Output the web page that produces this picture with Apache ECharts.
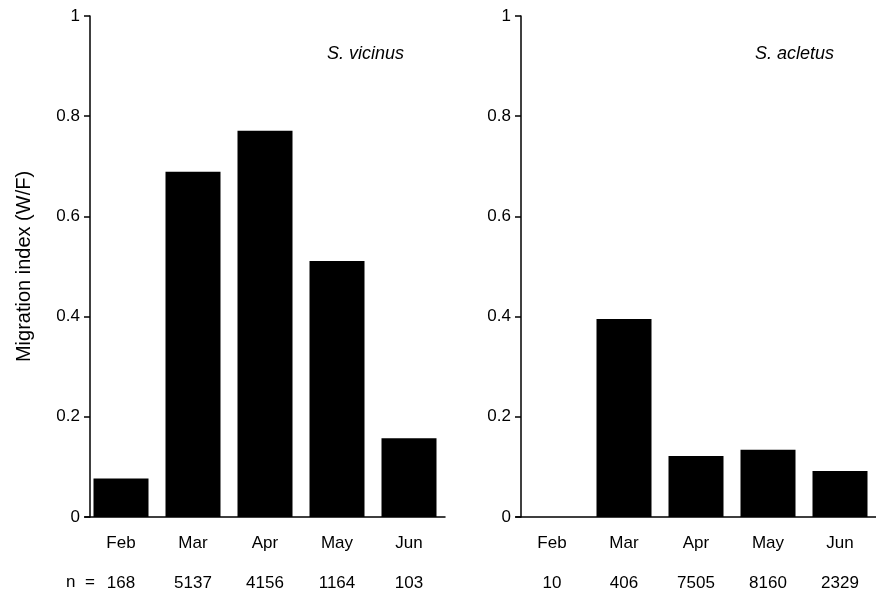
<!DOCTYPE html>
<html>
<head>
<meta charset="utf-8">
<script src="https://cdn.jsdelivr.net/npm/echarts@6/dist/echarts.min.js"></script>
<style>
  html, body { margin: 0; padding: 0; background: #fff; }
  #chart { width: 876px; height: 594px; }
</style>
</head>
<body>
<div id="chart"></div>
<script>
// Monthly migration index (W/F) for two species, with sample sizes per month
const months = ['Feb', 'Mar', 'Apr', 'May', 'Jun'];
const vicinusIndex = [0.077, 0.689, 0.771, 0.511, 0.157];
const acletusIndex = [0, 0.395, 0.122, 0.134, 0.092];
const vicinusN = ['168', '5137', '4156', '1164', '103'];
const acletusN = ['10', '406', '7505', '8160', '2329'];
const yTicks = [0, 0.2, 0.4, 0.6, 0.8, 1];
const speciesNames = ['S. vicinus', 'S. acletus'];

const FONT = 'Liberation Sans, Arial, Helvetica, sans-serif';
const INK = '#000';

function monthAxis(gridIndex) {
  return {
    type: 'category', gridIndex, data: months, position: 'bottom',
    axisLine: { lineStyle: { color: INK, width: 1.5 } },
    axisTick: { alignWithLabel: true, length: 6, lineStyle: { color: INK, width: 1.5 } },
    axisLabel: { color: INK, fontFamily: FONT, fontSize: 17, margin: 18 }
  };
}
function countAxis(gridIndex, counts) {
  return {
    type: 'category', gridIndex, data: counts, position: 'bottom',
    axisLine: { show: false }, axisTick: { show: false },
    axisLabel: { color: INK, fontFamily: FONT, fontSize: 17, margin: 58 }
  };
}
function valueAxis(gridIndex, withName) {
  return {
    type: 'value', gridIndex, min: yTicks[0], max: yTicks[yTicks.length - 1], interval: 0.2,
    offset: -5,
    name: withName ? 'Migration index (W/F)' : '',
    nameLocation: 'middle', nameGap: 56,
    nameTextStyle: { color: INK, fontFamily: FONT, fontSize: 20 },
    splitLine: { show: false },
    axisLine: { show: true, lineStyle: { color: INK, width: 1.5 } },
    axisTick: { show: true, length: 6, lineStyle: { color: INK, width: 1.5 } },
    axisLabel: { color: INK, fontFamily: FONT, fontSize: 17, margin: 10,
      formatter: v => String(+v.toFixed(1)) }
  };
}

const chart = echarts.init(document.getElementById('chart'), null, { renderer: 'canvas' });
chart.setOption({
  backgroundColor: '#fff',
  animation: false,
  title: [
    { text: speciesNames[0], left: 322, top: 40,
      textStyle: { fontFamily: FONT, fontSize: 18, fontStyle: 'italic', fontWeight: 'normal', color: INK } },
    { text: speciesNames[1], left: 750, top: 40,
      textStyle: { fontFamily: FONT, fontSize: 18, fontStyle: 'italic', fontWeight: 'normal', color: INK } }
  ],
  graphic: [
    { type: 'text', left: 66, top: 574,
      style: { text: 'n  =', fontFamily: FONT, fontSize: 17, fill: INK } }
  ],
  grid: [
    { left: 85, top: 16, width: 360, height: 501, outerBoundsMode: 'none' },
    { left: 516, top: 16, width: 360, height: 501, outerBoundsMode: 'none' }
  ],
  xAxis: [monthAxis(0), countAxis(0, vicinusN), monthAxis(1), countAxis(1, acletusN)],
  yAxis: [valueAxis(0, true), valueAxis(1, false)],
  series: [
    { type: 'bar', xAxisIndex: 0, yAxisIndex: 0, data: vicinusIndex, barWidth: 55,
      itemStyle: { color: INK } },
    { type: 'bar', xAxisIndex: 2, yAxisIndex: 1, data: acletusIndex, barWidth: 55,
      itemStyle: { color: INK } }
  ]
});
</script>
</body>
</html>
